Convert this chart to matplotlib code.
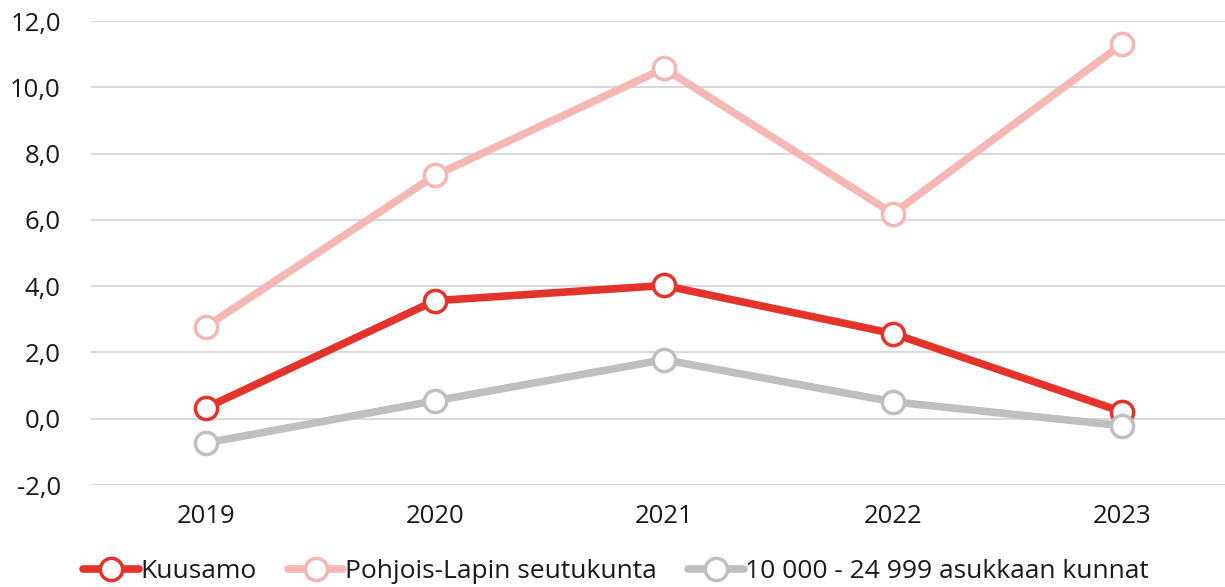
import matplotlib
matplotlib.use("Agg")
import matplotlib.pyplot as plt
from matplotlib.ticker import FuncFormatter

years = ["2019", "2020", "2021", "2022", "2023"]
kuusamo = [0.33, 3.56, 4.02, 2.57, 0.21]
pohjois_lappi = [2.78, 7.34, 10.57, 6.19, 11.30]
kunnat_10_25k = [-0.73, 0.54, 1.78, 0.51, -0.21]

series_names = ["Kuusamo", "Pohjois-Lapin seutukunta", "10 000 - 24 999 asukkaan kunnat"]
colors = ["#E4332A", "#F4B7B4", "#BFBFBF"]

plt.rcParams['font.family'] = ['Open Sans', 'DejaVu Sans']

fig = plt.figure(figsize=(12.25, 5.87), dpi=100)
ax = fig.add_axes([91.5 / 1225, (587 - 485) / 587, 1 - 91.5 / 1225, (485 - 21) / 587])

x = list(range(len(years)))
for vals, name, c in zip([kuusamo, pohjois_lappi, kunnat_10_25k], series_names, colors):
    ax.plot(x, vals, color=c, lw=5.5, marker="o", ms=16, mfc="white", mec=c, mew=2.5,
            label=name, solid_capstyle="round", zorder=3)

ax.set_ylim(-2, 12)
ax.set_yticks(range(-2, 13, 2))
ax.yaxis.set_major_formatter(FuncFormatter(lambda v, p: f"{v:.1f}".replace(".", ",")))
ax.set_xlim(-0.5, 4.5 - (1236.5 - 1225) / 229)
ax.set_xticks(x)
ax.set_xticklabels(years)
ax.grid(axis="y", color="#D9D9D9", lw=1.5)
ax.set_axisbelow(True)
for s in ax.spines.values():
    s.set_visible(False)
ax.tick_params(axis="both", length=0, labelsize=18.5, colors="#1a1a1a")
ax.tick_params(axis="y", pad=22)
ax.tick_params(axis="x", pad=14)

leg = ax.legend(loc="center", bbox_to_anchor=(616 / 1225, (587 - 572) / 587), bbox_transform=fig.transFigure,
                ncol=3, frameon=False, fontsize=19, handlelength=2.1, handletextpad=0.05,
                columnspacing=1.2, borderaxespad=0, borderpad=0, labelcolor="#1a1a1a")

fig.savefig("out.png", dpi=100, facecolor="white")
